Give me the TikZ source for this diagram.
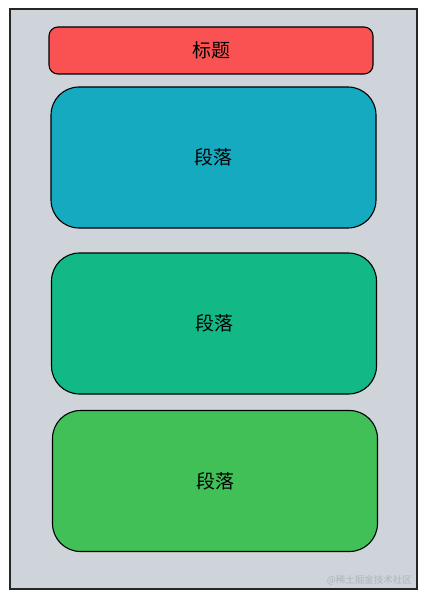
\documentclass[tikz,border=0pt]{standalone}
\usepackage{fontspec}
\setmainfont{Noto Sans CJK SC}
\usepackage{tikz}

\definecolor{pagegray}{HTML}{CED4DA}
\definecolor{titlered}{HTML}{FA5252}
\definecolor{parablue}{HTML}{15AABF}
\definecolor{parateal}{HTML}{12B886}
\definecolor{paragreen}{HTML}{40C057}

\tikzset{
    block/.style={draw=black, line width=1.1pt, rounded corners=28pt, inner sep=0pt,
        minimum width=325pt, minimum height=141pt, font=\fontsize{19}{22}\selectfont},
    titlebar/.style={block, rounded corners=9pt, minimum width=324pt, minimum height=47pt}
}

\begin{document}
\begin{tikzpicture}[x=1pt, y=-1pt]
    \useasboundingbox (0,0) rectangle (427,599);
    % Draw page frame
    \draw[line width=1.3pt, draw=black!85, fill=pagegray] (10,9) rectangle (417,589);
    % Draw title and paragraphs
    \node[titlebar, fill=titlered] (title) at (211,50.5) {标题};
    \node[block, fill=parablue] (para1) at (213.5,157.5) {段落};
    \node[block, fill=parateal] (para2) at (214,323.5) {段落};
    \node[block, fill=paragreen] (para3) at (215,481) {段落};
    % Watermark
    \node[anchor=east, text=pagegray!85!black, font=\fontsize{9.5}{11}\selectfont, inner sep=0pt] (mark) at (412,580) {@稀土掘金技术社区};
\end{tikzpicture}
\end{document}
